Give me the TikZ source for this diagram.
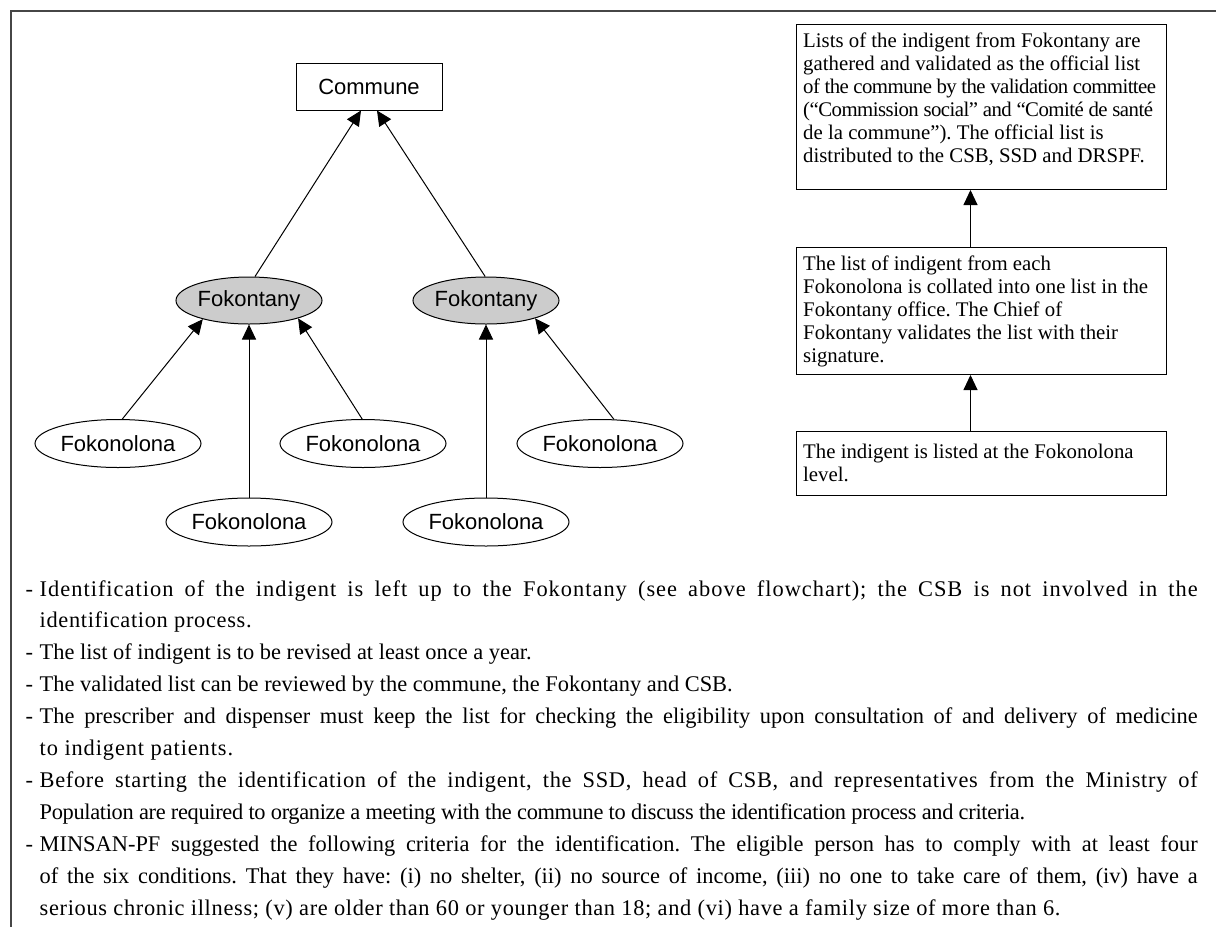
\documentclass[tikz,border=0pt]{standalone}
\usepackage{fontspec}
\setmainfont{Liberation Serif}
\newfontfamily\arialf{Liberation Sans}
\usetikzlibrary{arrows.meta,shapes.geometric,calc}
\definecolor{fokfill}{RGB}{204,204,204}
\definecolor{framecol}{RGB}{70,70,70}
\newlength\jw
\setlength\jw{1158pt}
\frenchspacing
\begin{document}
\begin{tikzpicture}[x=1pt,y=-1pt,
  sansfont/.style={font=\arialf\fontsize{22}{26}\selectfont},
  cbox/.style={sansfont,draw,line width=1pt,minimum width=146pt,minimum height=47pt,inner sep=0pt},
  fokbox/.style={sansfont,ellipse,draw,line width=1pt,fill=fokfill,minimum width=146pt,minimum height=47pt,inner sep=0pt},
  folbox/.style={sansfont,ellipse,draw,line width=1pt,minimum width=166pt,minimum height=48pt,inner sep=0pt},
  arr/.style={-{Triangle[length=15pt,width=14pt]},line width=1pt},
  infobox/.style={draw,line width=1pt,anchor=north west,minimum width=370pt,inner sep=0pt},
  infotext/.style={anchor=west,align=left,inner sep=0pt,font=\fontsize{20.8}{23}\selectfont},
  btxt/.style={font=\fontsize{22.4}{26}\selectfont,inner sep=0pt,anchor=base west}]
\useasboundingbox (0,0) rectangle (1216,927);
\fill[white] (0,0) rectangle (1216,927);
\draw[framecol,line width=1.2pt] (1216,11) -- (11,11) -- (11,927);

% tree
\node[cbox] (commune) at (369,86.5) {Commune};
\node[fokbox] (fokL) at (249,300.5) {Fokontany};
\node[fokbox] (fokR) at (486,300.5) {Fokontany};
\node[folbox] (fo1) at (118,443.5) {Fokonolona};
\node[folbox] (fo3) at (363,443.5) {Fokonolona};
\node[folbox] (fo5) at (600,443.5) {Fokonolona};
\node[folbox] (fo2) at (249,522) {Fokonolona};
\node[folbox] (fo4) at (486,522) {Fokonolona};

\draw[arr] (fo1.80) -- (fokL.202);
\draw[arr] (fo2) -- (fokL);
\draw[arr] (fo3.92) -- (fokL.340);
\draw[arr] (fo4) -- (fokR);
\draw[arr] (fo5.60) -- (fokR.340);
\draw[arr] (fokL.76) -- ([xshift=-8pt]commune.south);
\draw[arr] (fokR.92) -- ([xshift=8pt]commune.south);

% right flow
\node[infobox,minimum height=165pt] (top) at (796,24) {};
\node[infotext] (toptext) at ([xshift=7pt,yshift=8pt]top.west) {Lists of the indigent from Fokontany are\\
gathered and validated as the official list\\
{\addfontfeature{LetterSpace=-2.8}of the commune by the validation committee}\\
{\addfontfeature{LetterSpace=-2.5}(“Commission social” and “Comité de santé}\\
de la commune”). The official list is\\
distributed to the CSB, SSD and DRSPF.};
\node[infobox,minimum height=127pt] (mid) at (796,247) {};
\node[infotext] (midtext) at ([xshift=7pt]mid.west) {The list of indigent from each\\
Fokonolona is collated into one list in the\\
Fokontany office. The Chief of\\
Fokontany validates the list with their\\
signature.};
\node[infobox,minimum height=64pt] (bot) at (796,431) {};
\node[infotext] (bottext) at ([xshift=7pt,yshift=1pt]bot.west) {The indigent is listed at the Fokonolona\\
level.};
\draw[arr] ([xshift=-11pt]bot.north) -- ([xshift=-11pt]mid.south);
\draw[arr] ([xshift=-11pt]mid.north) -- ([xshift=-11pt]top.south);

% bottom text
\node[btxt] (d1) at (25.5,596) {-};
\node[btxt] (l1) at (39.5,596) {\addfontfeature{LetterSpace=4.5}\makebox[\jw][s]{Identification of the indigent is left up to the Fokontany (see above flowchart); the CSB is not involved in the}};
\node[btxt] (l2) at (39.5,627.9) {\addfontfeature{LetterSpace=3}identification process.};
\node[btxt] (d2) at (25.5,659.8) {-};
\node[btxt] (l3) at (39.5,659.8) {The list of indigent is to be revised at least once a year.};
\node[btxt] (d3) at (25.5,691.7) {-};
\node[btxt] (l4) at (39.5,691.7) {The validated list can be reviewed by the commune, the Fokontany and CSB.};
\node[btxt] (d4) at (25.5,723.6) {-};
\node[btxt] (l5) at (39.5,723.6) {\makebox[\jw][s]{The prescriber and dispenser must keep the list for checking the eligibility upon consultation of and delivery of medicine}};
\node[btxt] (l6) at (39.5,755.5) {\addfontfeature{LetterSpace=4}to indigent patients.};
\node[btxt] (d5) at (25.5,787.4) {-};
\node[btxt] (l7) at (39.5,787.4) {\addfontfeature{LetterSpace=3}\makebox[\jw][s]{Before starting the identification of the indigent, the SSD, head of CSB, and representatives from the Ministry of}};
\node[btxt] (l8) at (39.5,819.3) {\addfontfeature{LetterSpace=-1.5}Population are required to organize a meeting with the commune to discuss the identification process and criteria.};
\node[btxt] (d6) at (25.5,851.2) {-};
\node[btxt] (l9) at (39.5,851.2) {\makebox[\jw][s]{MINSAN-PF suggested the following criteria for the identification. The eligible person has to comply with at least four}};
\node[btxt] (l10) at (39.5,883.1) {\makebox[\jw][s]{of the six conditions. That they have: (i) no shelter, (ii) no source of income, (iii) no one to take care of them, (iv) have a}};
\node[btxt] (l11) at (39.5,915) {\addfontfeature{LetterSpace=3}serious chronic illness; (v) are older than 60 or younger than 18; and (vi) have a family size of more than 6.};
\end{tikzpicture}
\end{document}
